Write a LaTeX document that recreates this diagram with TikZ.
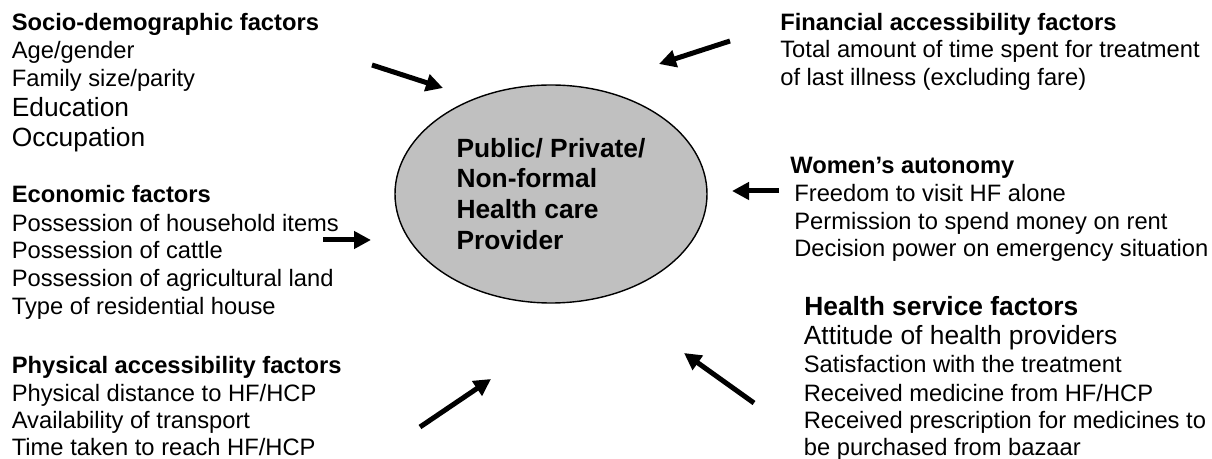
\documentclass[tikz,border=0pt]{standalone}
\usepackage{fontspec}
\setmainfont{Liberation Sans}
\usetikzlibrary{shapes.geometric,arrows.meta}

\definecolor{ovalgray}{RGB}{192,192,192}

\tikzset{
    fhead/.style={anchor=base west,inner sep=0pt,font=\fontsize{13.5}{16}\selectfont\bfseries},
    fline/.style={anchor=base west,inner sep=0pt,font=\fontsize{13.5}{16}\selectfont},
    fbig/.style={anchor=base west,inner sep=0pt,font=\fontsize{15}{18}\selectfont},
    fatarrow/.style={line width=0.1cm,-{Triangle[length=0.34cm,width=0.34cm]}}
}

\begin{document}
\begin{tikzpicture}
    \useasboundingbox (0,0) rectangle (24.24,9.18);

    \node[ellipse,draw,line width=0.8pt,fill=ovalgray,minimum width=6.24cm,minimum height=4.36cm,
        align=left,font=\fontsize{15}{17.6}\selectfont\bfseries] (provider) at (11.02,5.30)
        {Public/ Private/\\Non-formal\\Health care\\Provider};

    \node[fhead] (socioH) at (0.23,8.56) {Socio-demographic factors};
    \node[fline] (socio1) at (0.23,8.00) {Age/gender};
    \node[fline] (socio2) at (0.23,7.44) {Family size/parity};
    \node[fbig] (socio3) at (0.23,6.84) {Education};
    \node[fbig] (socio4) at (0.23,6.24) {Occupation};
    \coordinate (socioA) at (7.44,7.88);
    \coordinate (socioB) at (8.86,7.42);
    \draw[fatarrow] (socioA) -- (socioB);

    \node[fhead] (econH) at (0.23,5.12) {Economic factors};
    \node[fline] (econ1) at (0.23,4.54) {Possession of household items};
    \node[fline] (econ2) at (0.23,4.00) {Possession of cattle};
    \node[fline] (econ3) at (0.23,3.44) {Possession of agricultural land};
    \node[fline] (econ4) at (0.23,2.88) {Type of residential house};
    \coordinate (econA) at (6.46,4.38);
    \coordinate (econB) at (7.42,4.38);
    \draw[fatarrow] (econA) -- (econB);

    \node[fhead] (physH) at (0.23,1.70) {Physical accessibility factors};
    \node[fline] (phys1) at (0.23,1.14) {Physical distance to HF/HCP};
    \node[fline] (phys2) at (0.23,0.60) {Availability of transport};
    \node[fline] (phys3) at (0.23,0.06) {Time taken to reach HF/HCP};
    \coordinate (physA) at (8.40,0.64);
    \coordinate (physB) at (9.82,1.60);
    \draw[fatarrow] (physA) -- (physB);

    \node[fhead] (finH) at (15.60,8.56) {Financial accessibility factors};
    \node[fline] (fin1) at (15.60,8.02) {Total amount of time spent for treatment};
    \node[fline] (fin2) at (15.60,7.46) {of last illness (excluding fare)};
    \coordinate (finA) at (14.60,8.36);
    \coordinate (finB) at (13.18,7.90);
    \draw[fatarrow] (finA) -- (finB);

    \node[fhead] (womenH) at (15.80,5.70) {Women’s autonomy};
    \node[fline] (women1) at (15.88,5.14) {Freedom to visit HF alone};
    \node[fline] (women2) at (15.88,4.58) {Permission to spend money on rent};
    \node[fline] (women3) at (15.88,4.04) {Decision power on emergency situation};
    \coordinate (womenA) at (15.58,5.36);
    \coordinate (womenB) at (14.64,5.36);
    \draw[fatarrow] (womenA) -- (womenB);

    \node[fbig,font=\fontsize{15}{18}\selectfont\bfseries] (servH) at (16.08,2.86) {Health service factors};
    \node[fbig] (serv1) at (16.07,2.28) {Attitude of health providers};
    \node[fline] (serv2) at (16.07,1.72) {Satisfaction with the treatment};
    \node[fline] (serv3) at (16.07,1.14) {Received medicine from HF/HCP};
    \node[fline] (serv4) at (16.07,0.60) {Received prescription for medicines to};
    \node[fline] (serv5) at (16.07,0.06) {be purchased from bazaar};
    \coordinate (servA) at (15.08,1.12);
    \coordinate (servB) at (13.68,2.12);
    \draw[fatarrow] (servA) -- (servB);
\end{tikzpicture}
\end{document}
